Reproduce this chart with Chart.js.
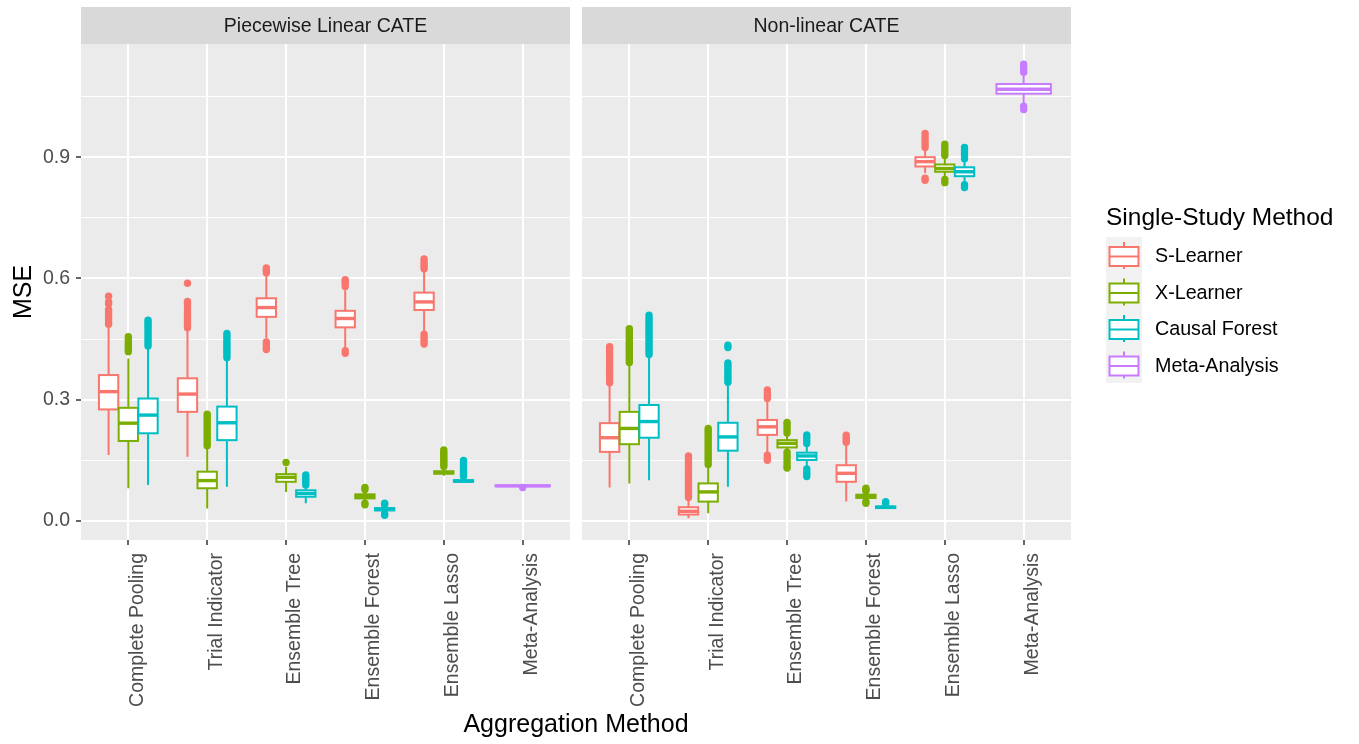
<!DOCTYPE html>
<html>
<head>
<meta charset="utf-8">
<script src="https://cdn.jsdelivr.net/npm/chart.js@4.4.1/dist/chart.umd.min.js"></script>
<style>
  html, body { margin: 0; padding: 0; background: #fff; }
  #wrap { position: relative; width: 1359px; height: 744px; }
  #wrap canvas { position: absolute; left: 0; top: 0; }
</style>
</head>
<body>
<div id="wrap">
  <canvas id="linChart" width="1359" height="744"></canvas>
  <canvas id="nonChart" width="1359" height="744"></canvas>
</div>
<script>
// MSE boxplots by aggregation method, faceted by CATE type (ggplot look)

const CATEGORIES = ['Complete Pooling', 'Trial Indicator', 'Ensemble Tree', 'Ensemble Forest', 'Ensemble Lasso', 'Meta-Analysis'];
const METHODS = ['S-Learner', 'X-Learner', 'Causal Forest', 'Meta-Analysis'];
const FACETS = ['Piecewise Linear CATE', 'Non-linear CATE'];
const Y_TICKS = [0, 0.15, 0.3, 0.45, 0.6, 0.75, 0.9, 1.05];
const Y_LABELED = [0, 0.3, 0.6, 0.9];

// box stats per category: [lower whisker, Q1, median, Q3, upper whisker]
// ---- Piecewise Linear CATE ----
const linS = [
  [0.163, 0.276, 0.320, 0.361, 0.480],
  [0.159, 0.270, 0.314, 0.353, 0.472],
  [0.452, 0.505, 0.528, 0.551, 0.608],
  [0.427, 0.479, 0.501, 0.520, 0.571],
  [0.468, 0.522, 0.542, 0.565, 0.617],
  null
];
const linSOut = [
  [0.487, 0.493, 0.499, 0.505, 0.511, 0.517, 0.523, 0.537, 0.542, 0.556],
  [0.478, 0.484, 0.490, 0.496, 0.502, 0.509, 0.516, 0.524, 0.531, 0.538, 0.543, 0.588],
  [0.614, 0.620, 0.626, 0.443, 0.436, 0.429, 0.424],
  [0.580, 0.587, 0.593, 0.597, 0.421, 0.415],
  [0.624, 0.630, 0.636, 0.642, 0.648, 0.462, 0.456, 0.450, 0.444, 0.438],
  []
];
const linX = [
  [0.081, 0.198, 0.242, 0.280, 0.402],
  [0.031, 0.081, 0.100, 0.122, 0.180],
  [0.072, 0.097, 0.108, 0.116, 0.134],
  [0.049, 0.056, 0.061, 0.066, 0.073],
  [0.112, 0.117, 0.120, 0.123, 0.130],
  null
];
const linXOut = [
  [0.419, 0.425, 0.431, 0.437, 0.443, 0.449, 0.456],
  [0.186, 0.192, 0.198, 0.204, 0.210, 0.216, 0.222, 0.228, 0.234, 0.240, 0.246, 0.252, 0.258, 0.264],
  [0.145],
  [0.078, 0.083, 0.044, 0.040],
  [0.135, 0.140, 0.145, 0.150, 0.155, 0.160, 0.165, 0.170, 0.176],
  []
];
const linC = [
  [0.089, 0.217, 0.262, 0.303, 0.427],
  [0.085, 0.200, 0.243, 0.283, 0.398],
  [0.044, 0.060, 0.068, 0.076, 0.084],
  [0.022, 0.026, 0.029, 0.032, 0.036],
  [0.094, 0.097, 0.099, 0.101, 0.106],
  null
];
const linCOut = [
  [0.433, 0.439, 0.445, 0.451, 0.457, 0.463, 0.469, 0.475, 0.481, 0.487, 0.493, 0.497],
  [0.404, 0.410, 0.416, 0.422, 0.428, 0.434, 0.440, 0.446, 0.452, 0.458, 0.464],
  [0.089, 0.094, 0.099, 0.104, 0.109, 0.114],
  [0.040, 0.044, 0.018, 0.014],
  [0.110, 0.115, 0.120, 0.125, 0.130, 0.135, 0.140, 0.145, 0.150],
  []
];
const linM = [null, null, null, null, null, [0.084, 0.086, 0.087, 0.088, 0.090]];
const linMOut = [[], [], [], [], [], [0.083]];

// ---- Non-linear CATE ----
const nonS = [
  [0.083, 0.171, 0.206, 0.242, 0.336],
  [0.007, 0.016, 0.024, 0.034, 0.052],
  [0.170, 0.213, 0.233, 0.250, 0.295],
  [0.048, 0.097, 0.118, 0.138, 0.188],
  [0.861, 0.877, 0.889, 0.900, 0.917],
  null
];
const nonSOut = [
  [0.342, 0.348, 0.354, 0.360, 0.366, 0.372, 0.378, 0.384, 0.390, 0.396, 0.402, 0.408, 0.414, 0.420, 0.426, 0.431],
  [0.058, 0.064, 0.070, 0.076, 0.082, 0.088, 0.094, 0.100, 0.106, 0.112, 0.118, 0.124, 0.130, 0.136, 0.142, 0.148, 0.154, 0.161],
  [0.303, 0.310, 0.317, 0.324, 0.163, 0.156, 0.150],
  [0.195, 0.200, 0.206, 0.212],
  [0.924, 0.931, 0.938, 0.945, 0.952, 0.959, 0.848, 0.843],
  []
];
const nonX = [
  [0.093, 0.190, 0.229, 0.270, 0.386],
  [0.019, 0.048, 0.072, 0.093, 0.134],
  [0.176, 0.182, 0.192, 0.200, 0.212],
  [0.052, 0.057, 0.061, 0.065, 0.070],
  [0.851, 0.864, 0.872, 0.882, 0.897],
  null
];
const nonXOut = [
  [0.392, 0.398, 0.404, 0.410, 0.416, 0.422, 0.428, 0.434, 0.440, 0.446, 0.452, 0.458, 0.464, 0.470, 0.476],
  [0.140, 0.146, 0.152, 0.158, 0.164, 0.170, 0.176, 0.182, 0.188, 0.194, 0.200, 0.206, 0.212, 0.218, 0.224, 0.229],
  [0.218, 0.225, 0.232, 0.239, 0.244, 0.170, 0.163, 0.156, 0.149, 0.142, 0.135, 0.131],
  [0.074, 0.078, 0.081, 0.048, 0.044],
  [0.904, 0.911, 0.918, 0.925, 0.932, 0.845, 0.837],
  []
];
const nonC = [
  [0.101, 0.206, 0.246, 0.287, 0.406],
  [0.085, 0.174, 0.208, 0.243, 0.336],
  [0.136, 0.151, 0.161, 0.169, 0.186],
  [0.030, 0.032, 0.034, 0.036, 0.040],
  [0.839, 0.853, 0.864, 0.875, 0.889],
  null
];
const nonCOut = [
  [0.412, 0.418, 0.424, 0.430, 0.436, 0.442, 0.448, 0.454, 0.460, 0.466, 0.472, 0.478, 0.484, 0.490, 0.496, 0.502, 0.509],
  [0.343, 0.349, 0.355, 0.361, 0.367, 0.373, 0.379, 0.385, 0.391, 0.429, 0.435],
  [0.192, 0.199, 0.206, 0.213, 0.129, 0.122, 0.116, 0.110],
  [0.044, 0.048],
  [0.896, 0.903, 0.910, 0.917, 0.924, 0.832, 0.825],
  []
];
const nonM = [null, null, null, null, null, [1.033, 1.057, 1.068, 1.081, 1.103]];
const nonMOut = [[], [], [], [], [], [1.110, 1.117, 1.124, 1.130, 1.026, 1.018]];

// ggplot default hue palette
const METHOD_COLORS = ['#F8766D', '#7CAE00', '#00BFC4', '#C77CFF'];
const DODGE = [-0.25, 0, 0.25, 0];
const BOX_W = [0.245, 0.245, 0.245, 0.69];
const FONT = '"Liberation Sans", Arial, Helvetica, sans-serif';

Chart.defaults.font.family = FONT;

const isMajor = (v) => Y_LABELED.some((t) => Math.abs(t - v) < 1e-6);

function makeChart(canvasId, facet, stats, outliers, isLeft) {
  const datasets = METHODS.map((name, m) => ({
    label: name,
    data: outliers[m].flatMap((vals, c) => vals.map((v) => ({ x: c + 1 + DODGE[m], y: v }))),
    pointRadius: 3.7,
    pointBorderWidth: 0,
    pointBackgroundColor: METHOD_COLORS[m],
    pointHoverRadius: 3.7
  }));

  const panelPlugin = {
    id: 'panel',
    beforeDraw(chart) {
      const { ctx, chartArea: a } = chart;
      ctx.save();
      ctx.fillStyle = '#EBEBEB';
      ctx.fillRect(a.left, a.top, a.right - a.left, a.bottom - a.top);
      // facet strip
      ctx.fillStyle = '#D9D9D9';
      ctx.fillRect(a.left, 7, a.right - a.left, a.top - 7);
      ctx.fillStyle = '#1A1A1A';
      ctx.font = `19.5px ${FONT}`;
      ctx.textAlign = 'center';
      ctx.textBaseline = 'middle';
      ctx.fillText(facet, (a.left + a.right) / 2, (a.top + 7) / 2 + 1);
      ctx.restore();
    },
    beforeDatasetsDraw(chart) {
      const { ctx, scales: { x, y } } = chart;
      ctx.save();
      stats.forEach((series, m) => {
        series.forEach((s, c) => {
          if (!s) return;
          const [lo, q1, med, q3, hi] = s;
          const pos = c + 1 + DODGE[m];
          const cx = x.getPixelForValue(pos);
          const x0 = x.getPixelForValue(pos - BOX_W[m] / 2);
          const x1 = x.getPixelForValue(pos + BOX_W[m] / 2);
          const yq1 = y.getPixelForValue(q1);
          const yq3 = y.getPixelForValue(q3);
          ctx.strokeStyle = METHOD_COLORS[m];
          ctx.lineWidth = 2;
          ctx.beginPath();
          ctx.moveTo(cx, y.getPixelForValue(hi));
          ctx.lineTo(cx, yq3);
          ctx.moveTo(cx, yq1);
          ctx.lineTo(cx, y.getPixelForValue(lo));
          ctx.stroke();
          ctx.fillStyle = '#fff';
          ctx.fillRect(x0, yq3, x1 - x0, yq1 - yq3);
          ctx.strokeRect(x0, yq3, x1 - x0, yq1 - yq3);
          ctx.lineWidth = 3.4;
          ctx.beginPath();
          ctx.moveTo(x0, y.getPixelForValue(med));
          ctx.lineTo(x1, y.getPixelForValue(med));
          ctx.stroke();
        });
      });
      ctx.restore();
    }
  };

  const plugins = [panelPlugin];
  if (!isLeft) plugins.push(legendPlugin);

  return new Chart(document.getElementById(canvasId), {
    type: 'scatter',
    data: { datasets },
    plugins,
    options: {
      responsive: false,
      animation: false,
      events: [],
      layout: {
        padding: isLeft
          ? { left: 0, top: 44, right: 789, bottom: 0 }
          : { left: 582, top: 44, right: 288, bottom: 0 }
      },
      plugins: {
        legend: { display: false },
        tooltip: { enabled: false }
      },
      scales: {
        x: {
          type: 'linear',
          min: 0.4,
          max: 6.6,
          afterBuildTicks: (s) => { s.ticks = CATEGORIES.map((c, i) => ({ value: i + 1 })); },
          afterFit: (s) => { s.height = 204; },
          border: { display: false },
          grid: { color: '#fff', lineWidth: 2, tickColor: '#333', tickLength: 5, tickWidth: 1.5 },
          ticks: {
            callback: (v) => CATEGORIES[v - 1],
            autoSkip: false,
            maxRotation: 90,
            minRotation: 90,
            padding: 8,
            labelOffset: 9,
            color: '#4D4D4D',
            font: { size: 19.5 }
          }
        },
        y: {
          type: 'linear',
          min: -0.047,
          max: 1.18,
          afterBuildTicks: (s) => { s.ticks = Y_TICKS.map((v) => ({ value: v })); },
          afterFit: (s) => { s.width = isLeft ? 81 : 0; },
          border: { display: false },
          grid: {
            color: '#fff',
            lineWidth: (c) => (c.tick && isMajor(c.tick.value) ? 2 : 1),
            tickColor: (c) => (isLeft && c.tick && isMajor(c.tick.value) ? '#333' : 'rgba(0,0,0,0)'),
            tickLength: 5,
            tickWidth: 1.5,
            drawTicks: isLeft
          },
          ticks: {
            display: isLeft,
            callback: (v) => (isMajor(v) ? v.toFixed(1) : ''),
            autoSkip: false,
            padding: 6,
            color: '#4D4D4D',
            font: { size: 19.5 }
          },
          title: {
            display: isLeft,
            text: 'MSE',
            color: '#000',
            font: { size: 25 },
            padding: { top: 9, bottom: 0 }
          }
        }
      }
    }
  });
}

// legend + shared x-axis title, drawn on the right-hand chart
const legendPlugin = {
  id: 'ggLegend',
  afterDraw(chart) {
    const { ctx } = chart;
    ctx.save();
    ctx.fillStyle = '#000';
    ctx.textAlign = 'center';
    ctx.textBaseline = 'alphabetic';
    ctx.font = `25px ${FONT}`;
    ctx.fillText('Aggregation Method', 576, 732);

    ctx.textAlign = 'left';
    ctx.font = `24.5px ${FONT}`;
    ctx.fillText('Single-Study Method', 1106, 225);

    const keyTop = 237, keyH = 36.5, keyX = 1106, keyW = 36;
    ctx.fillStyle = '#F2F2F2';
    ctx.fillRect(keyX, keyTop, keyW, keyH * METHODS.length);
    METHODS.forEach((name, m) => {
      const top = keyTop + m * keyH;
      const cx = keyX + keyW / 2;
      ctx.strokeStyle = METHOD_COLORS[m];
      ctx.lineWidth = 2;
      ctx.beginPath();
      ctx.moveTo(cx, top + 5);
      ctx.lineTo(cx, top + 32);
      ctx.stroke();
      ctx.fillStyle = '#fff';
      ctx.fillRect(keyX + 3.5, top + 10, keyW - 7, 19);
      ctx.strokeRect(keyX + 3.5, top + 10, keyW - 7, 19);
      ctx.beginPath();
      ctx.moveTo(keyX + 3.5, top + 19.5);
      ctx.lineTo(keyX + keyW - 3.5, top + 19.5);
      ctx.stroke();
      ctx.fillStyle = '#000';
      ctx.font = `19.7px ${FONT}`;
      ctx.fillText(name, 1155, top + keyH / 2 + 7);
    });
    ctx.restore();
  }
};

makeChart('linChart', FACETS[0], [linS, linX, linC, linM], [linSOut, linXOut, linCOut, linMOut], true);
makeChart('nonChart', FACETS[1], [nonS, nonX, nonC, nonM], [nonSOut, nonXOut, nonCOut, nonMOut], false);
</script>
</body>
</html>
